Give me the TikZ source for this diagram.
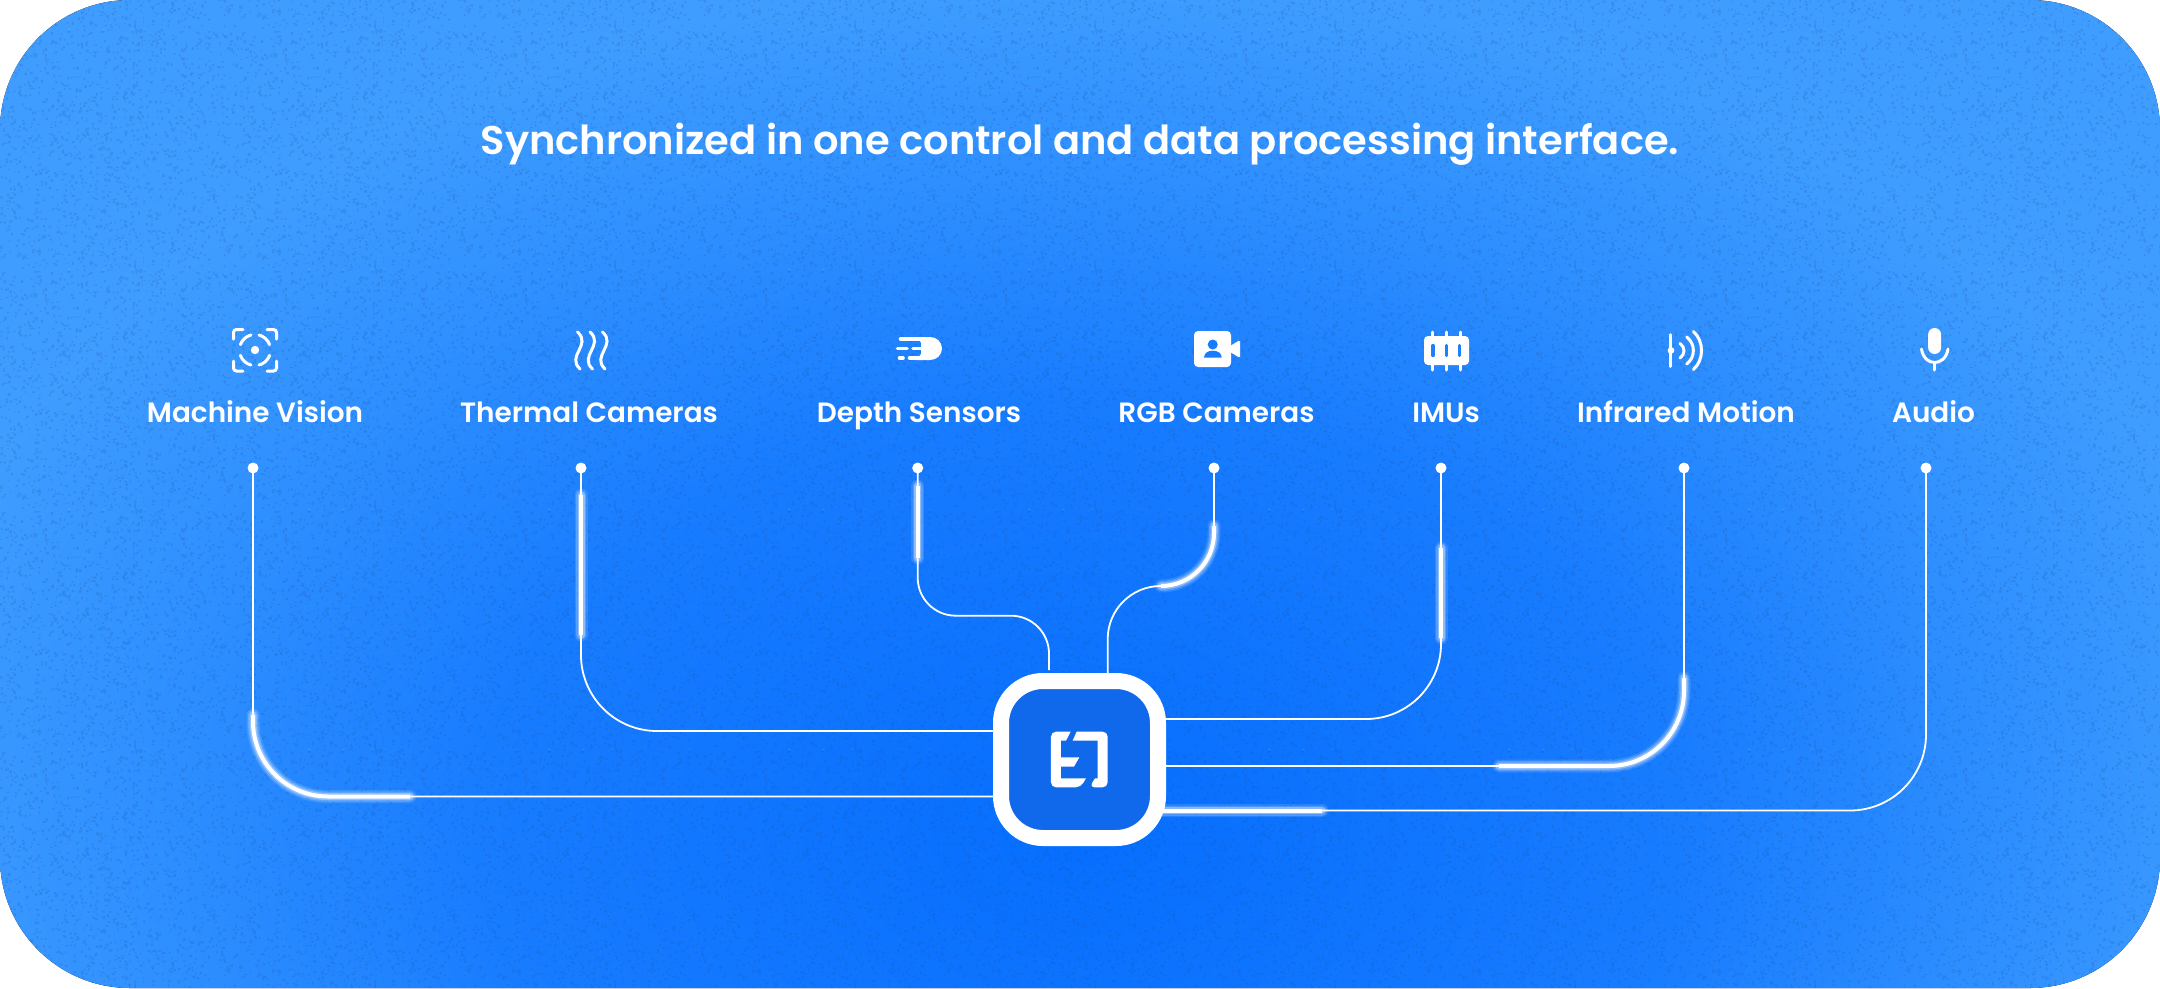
\documentclass[tikz,border=0pt]{standalone}
\usepackage{fontspec}
\setmainfont{Poppins}[UprightFont=* Medium,BoldFont=* SemiBold]
\usetikzlibrary{calc,patterns}
\definecolor{bgA}{HTML}{066EFF}
\definecolor{bgB}{HTML}{187CFF}
\definecolor{bgM}{HTML}{2C8DFF}
\definecolor{bgC}{HTML}{3F9DFF}
\definecolor{hubblue}{HTML}{0F69EA}
\definecolor{grainc}{HTML}{1A52A0}
\pgfdeclareradialshading{bgshade}{\pgfpoint{0bp}{0bp}}{color(0bp)=(bgA); color(6.25bp)=(bgB); color(9.25bp)=(bgM); color(12.5bp)=(bgC); color(50bp)=(bgC)}
\pgfmathsetseed{7}
\pgfdeclarepatternformonly{grain}{\pgfqpoint{0pt}{0pt}}{\pgfqpoint{240pt}{240pt}}{\pgfqpoint{240pt}{240pt}}{%
  \foreach \i in {1,...,1700}{%
    \pgfmathsetmacro\gx{240*rnd}%
    \pgfmathsetmacro\gy{240*rnd}%
    \pgfmathsetmacro\gw{1+1.8*rnd}%
    \pgfmathsetmacro\gh{1+1.8*rnd}%
    \pgfpathrectangle{\pgfqpoint{\gx pt}{\gy pt}}{\pgfqpoint{\gw pt}{\gh pt}}%
  }%
  \pgfusepath{fill}%
}
\tikzset{
  x=1pt,y=-1pt,
  wire/.style={draw=white,line width=1.8pt},
  glowline/.style={draw=white,line width=4pt},
  haloA/.style={draw=white,line width=13pt,line cap=round,opacity=.12},
  haloB/.style={draw=white,line width=10pt,line cap=round,opacity=.18},
  haloC/.style={draw=white,line width=7pt,line cap=round,opacity=.32},
  pindot/.style={circle,fill=white,inner sep=0pt,minimum size=11pt},
  lab/.style={text=white,font=\fontsize{27.9}{30}\selectfont\bfseries,inner sep=0pt,anchor=base},
  ttl/.style={text=white,font=\fontsize{40}{44}\selectfont\bfseries,inner sep=0pt,anchor=base},
  ico/.style={draw=white,line width=3pt,line cap=round,fill=none},
  icf/.style={fill=white,draw=none},
  cutout/.style={fill=bgB,draw=none},
}
\newcommand{\glowseg}[1]{\draw[haloA] #1; \draw[haloB] #1; \draw[haloC] #1; \draw[glowline] #1;}
\newcommand{\ringarc}[2]{\draw[ico] plot[domain=#1:#2,samples=9,smooth] ({255+15.5*cos(\x)},{350+15.5*sin(\x)});}
\begin{document}
\begin{tikzpicture}
\useasboundingbox (0,0) rectangle (2160,988);
\begin{scope}
\clip (0,0) [rounded corners=130pt] rectangle (2160,988);
\fill[shading=bgshade] (1080,830) ellipse (2400 and 1700);
\fill[pattern=grain,pattern color=grainc,opacity=.2] (0,0) rectangle (2160,988);
\end{scope}

\node[ttl] (title) at (1080,154) {Synchronized in one control and data processing interface.};
\node[lab] (l1) at (255,422) {Machine Vision};
\node[lab] (l2) at (589,422) {Thermal Cameras};
\node[lab] (l3) at (919,422) {Depth Sensors};
\node[lab] (l4) at (1216.5,422) {RGB Cameras};
\node[lab] (l5) at (1446,422) {IMUs};
\node[lab] (l6) at (1686,422) {Infrared Motion};
\node[lab] (l7) at (1933.5,422) {Audio};

\node[pindot] (p1) at (253,468) {};
\node[pindot] (p2) at (581,468) {};
\node[pindot] (p3) at (917.7,468) {};
\node[pindot] (p4) at (1214,468) {};
\node[pindot] (p5) at (1441,468) {};
\node[pindot] (p6) at (1684,468) {};
\node[pindot] (p7) at (1926,468) {};

% hub attachment points
\coordinate (h1) at (995,796.5);
\coordinate (h2) at (995,731);
\coordinate (h3) at (1049,670);
\coordinate (h4) at (1107.7,675);
\coordinate (h5) at (1164,719);
\coordinate (h6) at (1164,766);
\coordinate (h7) at (1164,810.5);

% wires
\draw[wire,rounded corners=75pt] (p1.center) |- (h1);
\draw[wire,rounded corners=76pt] (p2.center) |- (h2);
\draw[wire,rounded corners=38pt] (p3.center) -- (917.7,615.7) -- (1049,615.7) -- (h3);
\draw[wire,rounded corners=53pt] (p4.center) -- (1214,586) -- (1107.7,586) -- (h4);
\draw[wire,rounded corners=75pt] (p5.center) |- (h5);
\draw[wire,rounded corners=75pt] (p6.center) |- (h6);
\draw[wire,rounded corners=76pt] (p7.center) |- (h7);

% glowing stretches
\glowseg{(253,715) -- (253,721.5) .. controls (253,762.9) and (286.6,796.5) .. (328,796.5) -- (410,796.5)}
\glowseg{(581,495) -- (581,635)}
\glowseg{(917.7,486) -- (917.7,558)}
\glowseg{(1214,526) -- (1214,533) .. controls (1214,562.3) and (1190.3,586) .. (1161,586)}
\glowseg{(1441,548) -- (1441,638)}
\glowseg{(1684,678) -- (1684,691) .. controls (1684,732.4) and (1650.4,766) .. (1609,766) -- (1499,766)}
\glowseg{(1160,810.5) -- (1322,810.5)}

% hub
\node[draw=white,line width=16pt,fill=hubblue,rounded corners=42pt,minimum size=157pt,inner sep=0pt] (hub) at (1079.5,759.5) {};
\begin{scope}[x=.33333pt,y=-.33333pt,shift={(2880,1920)}]
\fill[white] (332,275) [rounded corners=5pt] -- (273,275) -- (273,442) -- (362,442) [sharp corners] -- (378,415) -- (303,415) -- (303,380) -- (342,380) -- (358,352) -- (303,352) -- (303,302) -- (318,302) -- cycle;
\fill[white] (350,275) [rounded corners=5pt] -- (443,275) -- (443,442) -- (388,442) [sharp corners] -- (405,415) -- (413,415) -- (413,302) -- (338,302) -- cycle;
\end{scope}

% machine vision icon
\draw[ico,rounded corners=3pt] (233.5,339) -- (233.5,329.5) -- (243,329.5);
\draw[ico,rounded corners=3pt] (267,329.5) -- (276.5,329.5) -- (276.5,339);
\draw[ico,rounded corners=3pt] (233.5,361) -- (233.5,371) -- (243,371);
\draw[ico,rounded corners=3pt] (267,371) -- (276.5,371) -- (276.5,361);
\ringarc{-160}{-105}
\ringarc{-75}{-20}
\ringarc{20}{75}
\ringarc{105}{160}
\fill[white] (255,350) circle (4.2);

% thermal icon
\draw[ico] (577.5,332) .. controls (592,345) and (566,356) .. (580,369);
\draw[ico] (590,332) .. controls (604.5,345) and (578.5,356) .. (592.5,369);
\draw[ico] (602.5,332) .. controls (617,345) and (591,356) .. (605,369);

% depth icon
\fill[icf] (918,337) -- (930,337) .. controls (936.5,337) and (942,342) .. (942,348.5) .. controls (942,355) and (936.5,360) .. (930,360) -- (916,360) -- (921,354) -- (921,343) -- cycle;
\draw[white,line width=3.6pt,line cap=round] (900.5,339) -- (920,339);
\draw[white,line width=3.6pt,line cap=round] (897.5,348.5) -- (907,348.5);
\draw[white,line width=3.6pt,line cap=round] (913,348.5) -- (922,348.5);
\draw[white,line width=3.6pt,line cap=round] (899.5,358) -- (903,358);
\draw[white,line width=3.6pt,line cap=round] (909.5,358) -- (920,358);

% rgb camera icon
\fill[icf,rounded corners=4pt] (1194,331) rectangle (1231,367);
\fill[icf,rounded corners=1.5pt] (1230,346) -- (1240,340) -- (1240,358) -- (1230,352) -- cycle;
\fill[cutout] (1212.7,344.5) circle (5);
\fill[cutout] (1204,357.7) .. controls (1204,353) and (1208,350.7) .. (1212.8,350.7) .. controls (1217.6,350.7) and (1221.7,353) .. (1221.7,357.7) -- cycle;

% imu icon
\draw[white,line width=3pt,line cap=round] (1432,332) -- (1432,370);
\draw[white,line width=3pt,line cap=round] (1446,332) -- (1446,370);
\draw[white,line width=3pt,line cap=round] (1460,332) -- (1460,370);
\fill[icf,rounded corners=4pt] (1424,336) rectangle (1469,365);
\draw[draw=bgB!80!bgM,line width=3.2pt,line cap=round] (1433,345.5) -- (1433,355.5);
\draw[draw=bgB!80!bgM,line width=3.2pt,line cap=round] (1446.3,345.5) -- (1446.3,355.5);
\draw[draw=bgB!80!bgM,line width=3.2pt,line cap=round] (1459.6,345.5) -- (1459.6,355.5);

% infrared icon
\draw[ico] (1670.4,334.5) -- (1670.4,366.5);
\fill[white] (1671,350.5) circle (3.4);
\draw[ico] (1680,343.5) .. controls (1685.3,347) and (1685.3,354.5) .. (1680,358);
\draw[ico] (1686.7,337) .. controls (1695.6,344) and (1695.6,357) .. (1686.7,364);
\draw[ico] (1693.4,331.5) .. controls (1704.2,341) and (1704.2,360) .. (1693.4,369.5);

% audio icon
\fill[icf,rounded corners=6.4pt] (1928.1,328) rectangle (1941.1,354);
\draw[ico] (1921.5,349) .. controls (1923,358.5) and (1929,362.5) .. (1934.6,362.5) .. controls (1940.2,362.5) and (1946.5,358.5) .. (1948,349);
\draw[ico] (1934.6,362.5) -- (1934.6,370);
\end{tikzpicture}
\end{document}
